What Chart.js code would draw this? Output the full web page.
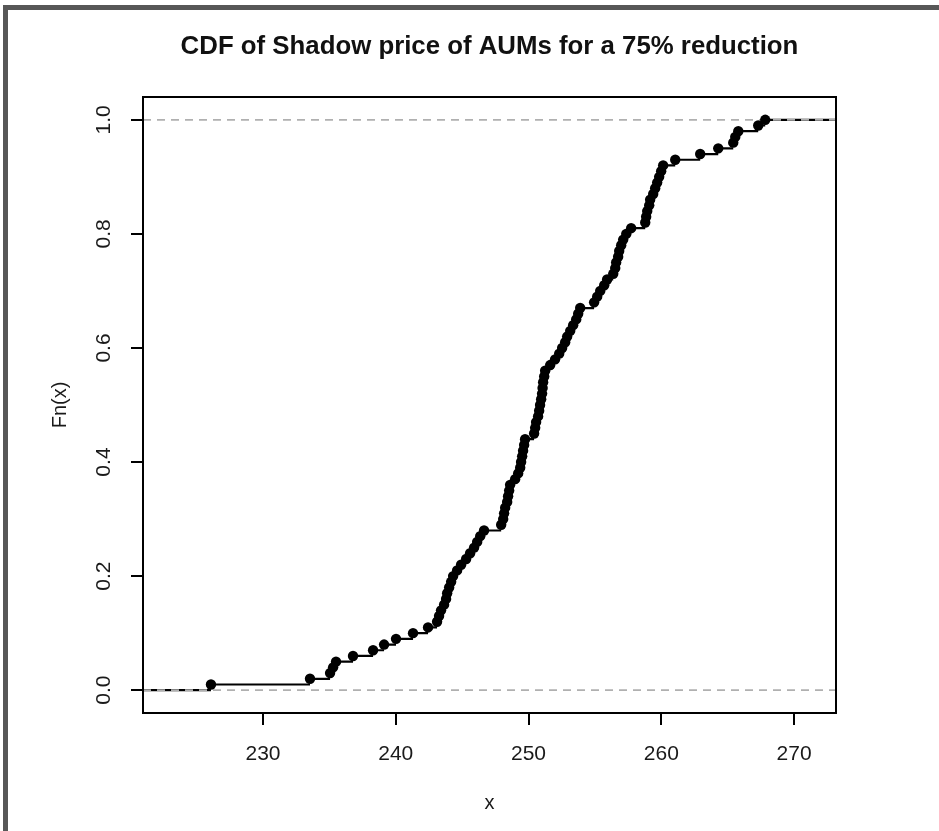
<!DOCTYPE html>
<html>
<head>
<meta charset="utf-8">
<script src="https://cdn.jsdelivr.net/npm/chart.js@4/dist/chart.umd.min.js"></script>
<style>
  html, body { margin: 0; padding: 0; background: #fff; }
  #frame {
    position: absolute; left: 3px; top: 5px; width: 936px; height: 826px;
    border-top: 5px solid #575757; border-left: 5px solid #575757;
    box-sizing: border-box;
  }
  #wrap { position: absolute; left: 0; top: 0; width: 939px; height: 831px; }
</style>
</head>
<body>
<div id="frame"></div>
<div id="wrap"><canvas id="cdf" width="939" height="831"></canvas></div>
<script>
// sorted sample of shadow prices (one dot per observation)
const SAMPLES = [
    226.08, 233.54, 235.05, 235.28, 235.50, 236.78, 238.29, 239.12, 240.02, 241.30,
    242.43, 243.11, 243.26, 243.41, 243.64, 243.79, 243.87, 244.02, 244.17, 244.32,
    244.62, 244.92, 245.30, 245.60, 245.90, 246.13, 246.36, 246.65, 247.94, 248.09,
    248.16, 248.24, 248.39, 248.46, 248.54, 248.61, 248.99, 249.22, 249.37, 249.44,
    249.52, 249.59, 249.67, 249.74, 250.42, 250.50, 250.57, 250.72, 250.80, 250.87,
    250.95, 251.02, 251.06, 251.10, 251.18, 251.25, 251.63, 252.00, 252.31, 252.53,
    252.76, 252.91, 253.14, 253.36, 253.59, 253.74, 253.89, 254.94, 255.17, 255.40,
    255.70, 255.92, 256.38, 256.53, 256.60, 256.75, 256.83, 256.98, 257.13, 257.36,
    257.73, 258.79, 258.86, 258.94, 259.09, 259.16, 259.39, 259.54, 259.69, 259.84,
    259.99, 260.14, 261.05, 262.93, 264.29, 265.42, 265.57, 265.80, 267.30, 267.83,
];
const X_TICKS = [230, 240, 250, 260, 270];
const Y_TICKS = [0, 0.2, 0.4, 0.6, 0.8, 1.0];
const X_RANGE = [220.96, 273.16];
const Y_RANGE = [-0.04, 1.04];
const TITLE = 'CDF of Shadow price of AUMs for a 75% reduction';

const FONT = '"Liberation Sans", Arial, sans-serif';

// empirical cdf: Fn(x_i) = i / n
const fn = SAMPLES.map((_, i) => (i + 1) / SAMPLES.length);
const dots = SAMPLES.map((x, i) => ({ x, y: fn[i] }));

// horizontal steps, broken between each (no verticals, like plot.ecdf)
const steps = [{ x: X_RANGE[0], y: 0 }, { x: SAMPLES[0], y: 0 }, { x: SAMPLES[0], y: null }];
SAMPLES.forEach((x, i) => {
    const next = i + 1 < SAMPLES.length ? SAMPLES[i + 1] : X_RANGE[1];
    steps.push({ x, y: fn[i] }, { x: next, y: fn[i] }, { x: next, y: null });
});

const refLine = (y) => [{ x: X_RANGE[0], y }, { x: X_RANGE[1], y }];

const rBase = {
    id: 'rBase',
    afterDraw(chart) {
        const { ctx, chartArea: a, scales: { x, y } } = chart;
        ctx.save();
        ctx.strokeStyle = '#000';
        ctx.lineWidth = 2;
        ctx.strokeRect(a.left, a.top, a.right - a.left, a.bottom - a.top);

        ctx.fillStyle = '#1a1a1a';
        ctx.font = `21px ${FONT}`;
        ctx.textAlign = 'center';
        ctx.textBaseline = 'middle';
        X_TICKS.forEach((v) => ctx.fillText(String(v), x.getPixelForValue(v), 754));
        Y_TICKS.forEach((v) => {
            ctx.save();
            ctx.translate(104, y.getPixelForValue(v));
            ctx.rotate(-Math.PI / 2);
            ctx.fillText(v.toFixed(1), 0, 0);
            ctx.restore();
        });

        ctx.font = `20px ${FONT}`;
        ctx.fillText('x', (a.left + a.right) / 2, 803);
        ctx.save();
        ctx.translate(60, (a.top + a.bottom) / 2);
        ctx.rotate(-Math.PI / 2);
        ctx.fillText('Fn(x)', 0, 0);
        ctx.restore();

        ctx.fillStyle = '#111';
        ctx.font = `bold 25.8px ${FONT}`;
        ctx.fillText(TITLE, (a.left + a.right) / 2, 47);
        ctx.restore();
    },
};

new Chart(document.getElementById('cdf'), {
    type: 'scatter',
    data: {
        datasets: [
            {
                data: dots,
                backgroundColor: '#000',
                borderWidth: 0,
                pointRadius: 5.2,
                pointHoverRadius: 5.2,
            },
            {
                data: refLine(0),
                showLine: true,
                borderColor: '#b0b0b0',
                borderWidth: 1.8,
                borderDash: [8, 6],
                pointRadius: 0,
            },
            {
                data: refLine(1),
                showLine: true,
                borderColor: '#b0b0b0',
                borderWidth: 1.8,
                borderDash: [8, 6],
                pointRadius: 0,
            },
            {
                data: steps,
                showLine: true,
                spanGaps: false,
                borderColor: '#000',
                borderWidth: 2.2,
                pointRadius: 0,
            },
        ],
    },
    options: {
        responsive: false,
        animation: false,
        events: [],
        layout: { autoPadding: false, padding: { left: 131, top: 97, right: 103, bottom: 106 } },
        plugins: { legend: { display: false }, tooltip: { enabled: false } },
        scales: {
            x: {
                type: 'linear',
                min: X_RANGE[0],
                max: X_RANGE[1],
                afterBuildTicks: (s) => { s.ticks = X_TICKS.map((value) => ({ value })); },
                ticks: { display: false },
                border: { display: false },
                grid: { drawOnChartArea: false, tickLength: 12, color: '#000', lineWidth: 2 },
            },
            y: {
                type: 'linear',
                min: Y_RANGE[0],
                max: Y_RANGE[1],
                afterBuildTicks: (s) => { s.ticks = Y_TICKS.map((value) => ({ value })); },
                ticks: { display: false },
                border: { display: false },
                grid: { drawOnChartArea: false, tickLength: 12, color: '#000', lineWidth: 2 },
            },
        },
    },
    plugins: [rBase],
});
</script>
</body>
</html>
